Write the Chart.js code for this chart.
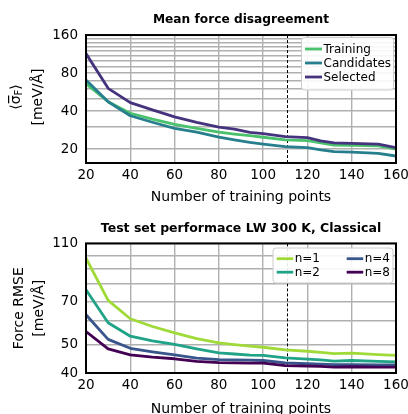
<!DOCTYPE html>
<html>
<head>
<meta charset="utf-8">
<script src="https://cdn.jsdelivr.net/npm/chart.js@4.4.0/dist/chart.umd.min.js"></script>
<style>
  html, body { margin: 0; padding: 0; background: #fff; }
  canvas { display: block; }
</style>
</head>
<body>
<canvas id="disagreementChart" width="408" height="207"></canvas>
<canvas id="rmseChart" width="408" height="207"></canvas>
<script>
// number of training points (shared by both panels)
const trainingPoints = [20, 30, 40, 50, 60, 70, 80, 87, 94, 100, 110, 120, 126, 132, 140, 152, 160];

// mean force disagreement [meV/Å]
const trainingSigma = [66, 47.4, 38.4, 34.5, 31.4, 29.2, 27.2, 26.3, 25.5, 24.8, 23.6, 23.3, 22.4, 21.5, 21.4, 21.2, 20.0];
const candidatesSigma = [70.4, 47.4, 36.7, 32.6, 29.2, 27.2, 24.8, 23.6, 22.6, 21.9, 20.9, 20.5, 19.7, 19.1, 18.9, 18.5, 17.6];
const selectedSigma = [114, 60.5, 46.6, 40.8, 36.0, 32.5, 29.8, 28.8, 27.1, 26.5, 25.1, 24.6, 23.2, 22.4, 22.2, 21.9, 20.5];

// test set force RMSE [meV/Å]
const rmseN1 = [98, 70.5, 61.1, 57.5, 54.7, 52.3, 50.6, 49.9, 49.3, 48.9, 47.9, 47.4, 47.0, 46.5, 46.7, 46.2, 45.9];
const rmseN2 = [76.6, 59.2, 53.3, 51.4, 50.0, 48.3, 46.8, 46.4, 46.0, 45.9, 45.0, 44.6, 44.3, 43.9, 44.1, 43.8, 43.6];
const rmseN4 = [63, 52, 48.5, 47.2, 46.1, 44.9, 44.4, 44.3, 44.2, 44.1, 43.3, 43.0, 42.9, 42.7, 42.7, 42.6, 42.6];
const rmseN8 = [55.3, 48.3, 46.1, 45.3, 44.7, 43.8, 43.4, 43.3, 43.2, 43.2, 42.4, 42.2, 42.1, 41.9, 42.0, 41.9, 41.9];

// axes
const sigmaGrid = [20, 30, 40, 50, 60, 70, 80, 90, 100, 110, 120, 130, 140, 150, 160];
const sigmaLabels = [20, 40, 80, 160];
const rmseGrid = [40, 50, 60, 70, 80, 90, 100, 110];
const rmseLabels = [40, 50, 70, 110];
const cutoffPoints = 111;

const FONT = '"DejaVu Sans", sans-serif';

function toXY(ys) {
  return ys.map((y, i) => ({ x: trainingPoints[i], y }));
}

function line(label, ys, color, order) {
  return {
    label, data: toXY(ys), borderColor: color, backgroundColor: color,
    borderWidth: 2.8, pointRadius: 0, tension: 0, borderJoinStyle: 'round', order
  };
}

// frame, dashed cutoff line and in-axes legend
const framePlugin = {
  id: 'frame',
  beforeDatasetsDraw(chart) {
    const { ctx, chartArea } = chart;
    const x = chart.scales.x.getPixelForValue(cutoffPoints);
    ctx.save();
    ctx.strokeStyle = '#000';
    ctx.lineWidth = 1;
    ctx.setLineDash([3, 2]);
    ctx.beginPath();
    ctx.moveTo(x, chartArea.top);
    ctx.lineTo(x, chartArea.bottom);
    ctx.stroke();
    ctx.restore();
  },
  afterDatasetsDraw(chart) {
    const { ctx, chartArea: a } = chart;
    ctx.save();
    ctx.strokeStyle = '#000';
    ctx.lineWidth = 2;
    ctx.strokeRect(a.left, a.top, a.right - a.left, a.bottom - a.top);
    ctx.restore();
  },
  afterDraw(chart, args, o) {
    if (!o.box) return;
    const { ctx } = chart;
    const b = o.box;
    ctx.save();
    ctx.fillStyle = 'rgba(255,255,255,0.9)';
    ctx.strokeStyle = '#cccccc';
    ctx.lineWidth = 1;
    ctx.beginPath();
    ctx.roundRect(b.left, b.top, b.width, b.height, 3);
    ctx.fill();
    ctx.stroke();
    ctx.font = '12px ' + FONT;
    ctx.textBaseline = 'middle';
    ctx.textAlign = 'left';
    chart.data.datasets.forEach((ds, i) => {
      const col = Math.floor(i / b.rows), row = i % b.rows;
      const x0 = b.left + b.lineStart + col * b.colWidth;
      const y = b.top + b.rowStart + row * b.rowGap;
      ctx.strokeStyle = ds.borderColor;
      ctx.lineWidth = 2.8;
      ctx.beginPath();
      ctx.moveTo(x0, y);
      ctx.lineTo(x0 + b.lineLen, y);
      ctx.stroke();
      ctx.fillStyle = '#000';
      ctx.fillText(ds.label, x0 + b.lineLen + 1.5, y + 0.5);
    });
    ctx.restore();
  }
};

// <sigma_F> title with overline and subscript
const sigmaTitlePlugin = {
  id: 'sigmaTitle',
  afterDraw(chart, args, o) {
    if (!o.display) return;
    const { ctx, chartArea } = chart;
    const cy = (chartArea.top + chartArea.bottom) / 2 - 2;
    const big = '14px ' + FONT, small = '10px ' + FONT;
    ctx.save();
    ctx.fillStyle = '#000';
    ctx.translate(15.5, cy);
    ctx.rotate(-Math.PI / 2);
    ctx.textBaseline = 'alphabetic';
    ctx.font = big;
    const wL = ctx.measureText('\u27E8').width;
    const wS = ctx.measureText('\u03C3').width;
    const wR = ctx.measureText('\u27E9').width;
    ctx.font = small;
    const wF = ctx.measureText('F').width;
    let x = -(wL + wS + wF + wR) / 2;
    const base = 4;
    ctx.font = big;
    ctx.fillText('\u27E8', x, base); x += wL;
    ctx.fillText('\u03C3', x, base);
    ctx.fillRect(x + 1, base - 11.5, wS - 1, 1.2);
    x += wS;
    ctx.font = small;
    ctx.fillText('F', x, base + 2.5); x += wF;
    ctx.font = big;
    ctx.fillText('\u27E9', x, base);
    ctx.restore();

    ctx.save();
    ctx.fillStyle = '#000';
    ctx.font = big;
    ctx.translate(38, cy);
    ctx.rotate(-Math.PI / 2);
    ctx.textAlign = 'center';
    ctx.textBaseline = 'middle';
    ctx.fillText('[meV/\u00C5]', 0, 0);
    ctx.restore();
  }
};

function makeOptions(cfg) {
  return {
    responsive: false,
    animation: false,
    devicePixelRatio: 1,
    layout: { padding: { left: 0, right: 12, top: 0, bottom: 0 } },
    plugins: {
      legend: { display: false },
      tooltip: { enabled: false },
      title: {
        display: true, text: cfg.title, color: '#000', fullSize: false,
        font: { family: FONT, size: cfg.titleSize, weight: 'bold', lineHeight: 1.2 },
        padding: cfg.titlePadding
      },
      frame: { box: cfg.legend },
      sigmaTitle: { display: cfg.sigmaTitle }
    },
    scales: {
      x: {
        type: 'linear', min: 20, max: 160,
        ticks: { stepSize: 20, color: '#000', padding: 4, maxRotation: 0, font: { family: FONT, size: 13.5 } },
        grid: { color: '#b0b0b0', lineWidth: 1.4, drawTicks: false },
        border: { display: false },
        title: {
          display: true, text: 'Number of training points', color: '#000',
          font: { family: FONT, size: 14, lineHeight: 1.2 },
          padding: { top: 0, bottom: cfg.xTitlePad }
        },
        afterFit(s) { s.height = cfg.xHeight; s.paddingLeft = 0; s.paddingRight = 0; }
      },
      y: {
        type: 'logarithmic', min: cfg.yMin, max: cfg.yMax,
        afterBuildTicks(s) { s.ticks = cfg.grid.map(v => ({ value: v })); },
        ticks: {
          autoSkip: false, color: '#000', padding: 8,
          font: { family: FONT, size: 13.5 },
          callback: v => cfg.labels.includes(v) ? String(v) : ''
        },
        grid: { color: '#b0b0b0', lineWidth: 1.4, drawTicks: false },
        border: { display: false },
        title: cfg.yTitle,
        afterFit(s) { s.width = 86; s.paddingTop = 0; s.paddingBottom = 0; }
      }
    }
  };
}

new Chart(document.getElementById('disagreementChart'), {
  type: 'line',
  data: {
    datasets: [
      line('Training', trainingSigma, '#4ac16d', 3),
      line('Candidates', candidatesSigma, '#277f8e', 2),
      line('Selected', selectedSigma, '#46337e', 1)
    ]
  },
  options: makeOptions({
    title: 'Mean force disagreement', titleSize: 12.2,
    titlePadding: { top: 12.3, bottom: 8.1 },
    xHeight: 44, xTitlePad: 1.6,
    yMin: 15.5, yMax: 160, grid: sigmaGrid, labels: sigmaLabels,
    yTitle: { display: false },
    sigmaTitle: true,
    legend: { left: 301.5, top: 37.5, width: 92, height: 52.5, rows: 3, rowStart: 11.5, rowGap: 14, colWidth: 0, lineStart: 3.5, lineLen: 17 }
  }),
  plugins: [framePlugin, sigmaTitlePlugin]
});

new Chart(document.getElementById('rmseChart'), {
  type: 'line',
  data: {
    datasets: [
      line('n=1', rmseN1, '#a0da39', 4),
      line('n=2', rmseN2, '#20a386', 3),
      line('n=4', rmseN4, '#39568c', 2),
      line('n=8', rmseN8, '#440154', 1)
    ]
  },
  options: makeOptions({
    title: 'Test set performace LW 300 K, Classical', titleSize: 12.5,
    titlePadding: { top: 14, bottom: 7.4 },
    xHeight: 41, xTitlePad: -3.7,
    yMin: 40, yMax: 110, grid: rmseGrid, labels: rmseLabels,
    yTitle: {
      display: true, text: ['Force RMSE', '[meV/\u00C5]'], color: '#000',
      font: { family: FONT, size: 14, lineHeight: 1.43 },
      padding: { top: 9, bottom: 0 }
    },
    sigmaTitle: false,
    legend: { left: 273, top: 41, width: 120, height: 35, rows: 2, rowStart: 10.7, rowGap: 13.5, colWidth: 70, lineStart: 3.7, lineLen: 16.5 }
  }),
  plugins: [framePlugin, sigmaTitlePlugin]
});
</script>
</body>
</html>
